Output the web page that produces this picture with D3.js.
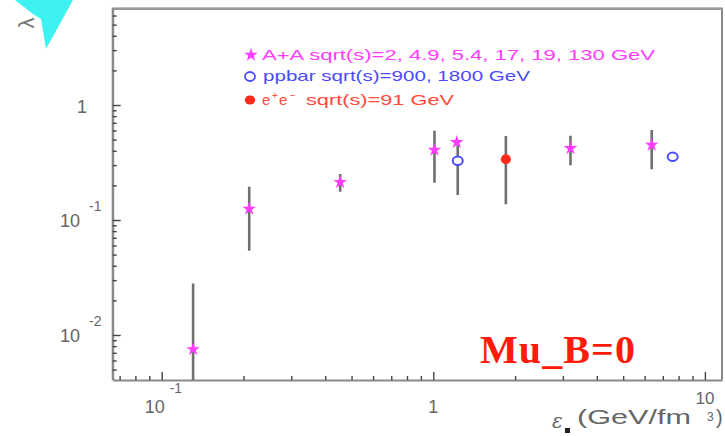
<!DOCTYPE html>
<html><head><meta charset="utf-8">
<script src="https://cdn.jsdelivr.net/npm/d3@7"></script>
<style>html,body{margin:0;padding:0;background:#fff;}svg{display:block;}</style>
</head><body>
<svg id="c" width="725" height="436"></svg>
<script>
// ---- data ----
const aaX    = [0.1305, 0.21, 0.454, 1.01, 1.22, 3.2, 6.37];
const aaY    = [0.0075, 0.125, 0.213, 0.407, 0.474, 0.42, 0.449];
const aaLo   = [0.003, 0.054, 0.176, 0.211, null, 0.30, 0.276];
const aaHi   = [0.028, 0.195, 0.251, 0.597, null, 0.54, 0.607];
const ppX    = [1.23, 7.61];
const ppY    = [0.328, 0.355];
const ppLo   = [0.165, null];
const ppHi   = [0.467, null];
const eeX    = [1.85];
const eeY    = [0.337];
const eeLo   = [0.137];
const eeHi   = [0.537];
const xMajor = [0.1, 1, 10];
const yMajor = [0.01, 0.1, 1];
const legendLabels = ["A+A sqrt(s)=2, 4.9, 5.4, 17, 19, 130 GeV", "ppbar sqrt(s)=900, 1800 GeV", "e+e- sqrt(s)=91 GeV"];

const svg = d3.select("#c");
const L = 112.7, R = 722, T = 8.7, B = 380;
const x = d3.scaleLog().domain([0.066, 11.56]).range([L, R]);
const y = d3.scaleLog().domain([0.00406, 6.88]).range([B, T]);

const axisCol = "#8a8a8a";
const magenta = "#ff3cff", blue = "#4a4aff", red = "#ff2a1a";

// cyan triangle decoration
svg.append("path").attr("d", "M15,0 L73,0 L46,49 L41,19 L33,14 Z").attr("fill", "#3ef2f2");

// y label lambda
svg.append("text").attr("transform", "translate(34,23) rotate(-90)")
  .attr("text-anchor", "middle").attr("font-family", "Liberation Sans, Arial, sans-serif")
  .attr("font-size", 22).attr("fill", "#777").text("λ");

// frame
svg.append("path").attr("d", `M${L},${B} L${L},${T} L${R},${T} L${R},${B}`)
  .attr("fill", "none").attr("stroke", axisCol).attr("stroke-width", 2);
svg.append("line").attr("x1", L).attr("x2", R).attr("y1", T).attr("y2", T).attr("stroke", "#999").attr("stroke-width", 2.5);

// minor tick values
function minors(dom) {
  const out = [];
  for (let e = -3; e <= 1; e++) for (let k = 1; k <= 9; k++) {
    const v = k * Math.pow(10, e);
    if (v >= dom[0] && v <= dom[1]) out.push(v);
  }
  return out;
}
const xTicks = minors(x.domain()), yTicks = minors(y.domain());
const isMajor = v => Math.abs(Math.log10(v) - Math.round(Math.log10(v))) < 1e-6;

const gx = svg.append("g").attr("transform", `translate(0,${B})`)
  .call(d3.axisBottom(x).tickValues(xTicks).tickSizeOuter(0).tickFormat(""));
gx.selectAll(".tick line").attr("y2", d => isMajor(d) ? -8 : -4).attr("stroke", "#444").attr("stroke-width", 1.4);
gx.select(".domain").attr("stroke", axisCol).attr("stroke-width", 2);

const gy = svg.append("g").attr("transform", `translate(${L},0)`)
  .call(d3.axisLeft(y).tickValues(yTicks).tickSizeOuter(0).tickFormat(""));
gy.selectAll(".tick line").attr("x2", d => isMajor(d) ? 8 : 4).attr("stroke", "#444").attr("stroke-width", 1.4);
gy.select(".domain").attr("stroke", axisCol).attr("stroke-width", 2);

const font = "Liberation Sans, Arial, sans-serif";
const lab = "#666";
// y tick labels
yMajor.forEach(v => {
  const e = Math.round(Math.log10(v));
  const yy = y(v);
  if (e === 0) {
    svg.append("text").attr("x", 87).attr("y", yy + 7.5).attr("text-anchor", "end")
      .attr("font-family", font).attr("font-size", 18).attr("fill", lab).text("1");
  } else {
    svg.append("text").attr("x", 80).attr("y", yy + 7.5).attr("text-anchor", "end")
      .attr("font-family", font).attr("font-size", 18).attr("fill", lab).text("10");
    svg.append("text").attr("x", 89).attr("y", yy - 8.5)
      .attr("font-family", font).attr("font-size", 14).attr("fill", lab).text(String(e));
  }
});
// x tick labels
xMajor.forEach(v => {
  const e = Math.round(Math.log10(v));
  const xx = x(v);
  if (e === 0) {
    svg.append("text").attr("x", xx).attr("y", 413).attr("text-anchor", "middle")
      .attr("font-family", font).attr("font-size", 18).attr("fill", lab).text("1");
  } else if (e === 1) {
    svg.append("text").attr("x", xx).attr("y", 404).attr("text-anchor", "middle")
      .attr("font-family", font).attr("font-size", 17).attr("fill", lab).text("10");
  } else {
    svg.append("text").attr("x", xx - 7).attr("y", 413).attr("text-anchor", "middle")
      .attr("font-family", font).attr("font-size", 18).attr("fill", lab).text("10");
    svg.append("text").attr("x", xx + 8).attr("y", 393)
      .attr("font-family", font).attr("font-size", 14).attr("fill", lab).text(String(e));
  }
});
// x axis title
svg.append("text").attr("x", 552).attr("y", 428).attr("font-family", "DejaVu Serif, serif").attr("font-style", "italic")
  .attr("font-size", 20).attr("fill", lab).text("ε");
svg.append("rect").attr("x", 565).attr("y", 428).attr("width", 5).attr("height", 5).attr("fill", "#222");
svg.append("text").attr("x", 577).attr("y", 424).attr("font-family", font).attr("font-size", 20)
  .attr("fill", lab).attr("textLength", 114).attr("lengthAdjust", "spacingAndGlyphs").text("(GeV/fm");
svg.append("text").attr("x", 707).attr("y", 421).attr("font-family", font).attr("font-size", 12)
  .attr("fill", lab).text("3");
svg.append("text").attr("x", 716).attr("y", 424).attr("font-family", font).attr("font-size", 20)
  .attr("fill", lab).text(")");

// clip
svg.append("clipPath").attr("id", "pc").append("rect").attr("x", L).attr("y", T).attr("width", R - L).attr("height", B - T);
const plot = svg.append("g").attr("clip-path", "url(#pc)");

function errBars(xs, lo, hi) {
  xs.forEach((v, i) => {
    if (lo[i] == null) return;
    plot.append("line").attr("x1", x(v)).attr("x2", x(v)).attr("y1", y(lo[i])).attr("y2", y(hi[i]))
      .attr("stroke", "#707070").attr("stroke-width", 2.6);
  });
}
errBars(aaX, aaLo, aaHi);
errBars(ppX, ppLo, ppHi);
errBars(eeX, eeLo, eeHi);

const star = d3.symbol().type(d3.symbolStar).size(58);
aaX.forEach((v, i) => {
  plot.append("path").attr("d", star()).attr("transform", `translate(${x(v)},${y(aaY[i])})`).attr("fill", magenta);
});
ppX.forEach((v, i) => {
  plot.append("ellipse").attr("cx", x(v)).attr("cy", y(ppY[i])).attr("rx", 5).attr("ry", 4.3)
    .attr("fill", "#fff").attr("stroke", blue).attr("stroke-width", 2);
});
eeX.forEach((v, i) => {
  plot.append("circle").attr("cx", x(v)).attr("cy", y(eeY[i])).attr("r", 5).attr("fill", red);
});

// legend
svg.append("path").attr("d", star()).attr("transform", "translate(251,55)").attr("fill", magenta);
svg.append("text").attr("x", 262).attr("y", 59.5).attr("font-family", font).attr("font-size", 15)
  .attr("fill", magenta).attr("textLength", 393).attr("lengthAdjust", "spacingAndGlyphs").text(legendLabels[0]);
svg.append("ellipse").attr("cx", 250).attr("cy", 76.5).attr("rx", 5).attr("ry", 4.5)
  .attr("fill", "none").attr("stroke", blue).attr("stroke-width", 1.8);
svg.append("text").attr("x", 263).attr("y", 80.5).attr("font-family", font).attr("font-size", 15)
  .attr("fill", blue).attr("textLength", 267).attr("lengthAdjust", "spacingAndGlyphs").text(legendLabels[1]);
svg.append("ellipse").attr("cx", 250).attr("cy", 100).attr("rx", 5.2).attr("ry", 4.5).attr("fill", red);
const t3 = svg.append("text").attr("y", 105).attr("font-family", font).attr("font-size", 15).attr("fill", "#ff4a3a");
t3.append("tspan").attr("x", 262).text("e");
t3.append("tspan").attr("x", 272).attr("dy", -6).attr("font-size", 10).text("+");
t3.append("tspan").attr("x", 279).attr("dy", 6).text("e");
t3.append("tspan").attr("x", 290).attr("dy", -6).attr("font-size", 10).text("−");
svg.append("text").attr("x", 306).attr("y", 105).attr("font-family", font).attr("font-size", 15)
  .attr("fill", "#ff4a3a").attr("textLength", 148).attr("lengthAdjust", "spacingAndGlyphs").text(legendLabels[2].split(" ").slice(1).join(" "));

// Mu_B=0 annotation
svg.append("text").attr("x", 480).attr("y", 363).attr("font-family", "Liberation Serif, Times New Roman, serif")
  .attr("font-weight", "bold").attr("font-size", 40).attr("fill", "#ff1a0a").attr("textLength", 155).text("Mu_B=0");
</script>
</body></html>
